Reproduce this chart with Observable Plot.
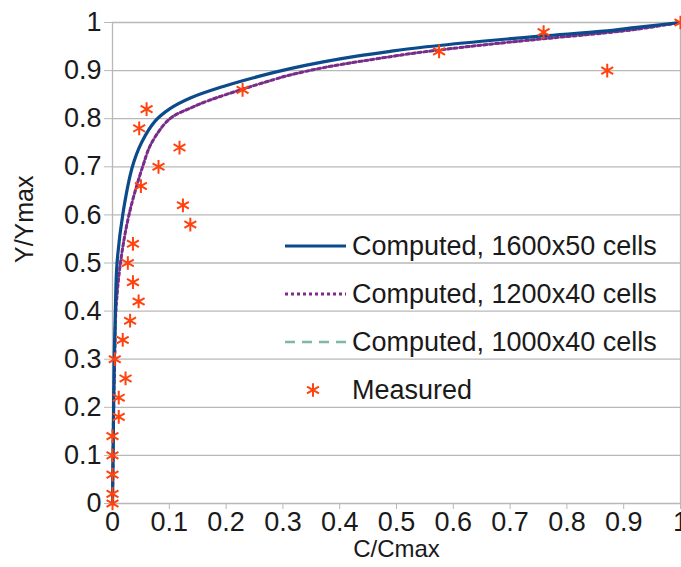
<!DOCTYPE html>
<html><head><meta charset="utf-8">
<script src="https://cdn.jsdelivr.net/npm/d3@7"></script>
<script src="https://cdn.jsdelivr.net/npm/@observablehq/plot@0.6"></script>
<style>
body{margin:0;background:#fff;font-family:"Liberation Sans",Arial,sans-serif;}
#wrap{position:relative;width:681px;height:567px;overflow:hidden;}
#wrap svg.leg{position:absolute;left:0;top:0;pointer-events:none;}
</style></head><body><div id="wrap"></div>
<script>
// ---- data ----
const xTicks = [0,0.1,0.2,0.3,0.4,0.5,0.6,0.7,0.8,0.9,1];
const yTicks = [0,0.1,0.2,0.3,0.4,0.5,0.6,0.7,0.8,0.9,1];
const xLabel = "C/Cmax";
const yLabel = "Y/Ymax";

const c1600X = [0,0.001,0.002,0.003,0.005,0.008,0.018,0.035,0.051,0.075,0.10,0.137,0.195,0.254,0.313,0.371,0.43,0.489,0.542,0.65,0.757,0.864,0.923,1];
const c1600Y = [0,0.1,0.2,0.3,0.4,0.5,0.6,0.7,0.75,0.795,0.82,0.843,0.867,0.887,0.904,0.918,0.930,0.940,0.948,0.961,0.972,0.982,0.990,1];

const c1200X = [0,0.001,0.002,0.004,0.006,0.014,0.029,0.053,0.069,0.101,0.137,0.17,0.228,0.283,0.313,0.371,0.43,0.489,0.542,0.65,0.757,0.864,0.923,1];
const c1200Y = [0,0.1,0.2,0.3,0.4,0.5,0.6,0.7,0.75,0.8,0.822,0.838,0.861,0.881,0.891,0.906,0.918,0.929,0.938,0.953,0.966,0.978,0.986,1];

const c1000X = [0,0.001,0.002,0.004,0.006,0.014,0.029,0.053,0.069,0.101,0.137,0.17,0.228,0.283,0.313,0.371,0.43,0.489,0.542,0.65,0.757,0.864,0.923,1];
const c1000Y = [0,0.1,0.2,0.3,0.4,0.5,0.6,0.7,0.75,0.8,0.822,0.838,0.861,0.881,0.891,0.906,0.918,0.929,0.938,0.953,0.966,0.978,0.986,1];

const measX = [0,0,0,0,0,0.011,0.011,0.023,0.004,0.018,0.031,0.046,0.036,0.027,0.036,0.137,0.124,0.050,0.081,0.118,0.047,0.060,0.229,0.575,0.759,0.871,1.0];
const measY = [0,0.02,0.06,0.10,0.14,0.18,0.22,0.26,0.30,0.34,0.38,0.42,0.46,0.50,0.54,0.58,0.62,0.66,0.70,0.74,0.78,0.82,0.86,0.94,0.98,0.90,1.0];

const seriesNames = ["Computed, 1600x50 cells","Computed, 1200x40 cells","Computed, 1000x40 cells","Measured"];
const seriesColors = ["#0b4a8b","#7d2b8b","#7db8a6","#ff420e"];

// ---- build tables ----
const toRows = (xs, ys) => xs.map((x,i)=>({x, y: ys[i]}));
const s1600 = toRows(c1600X, c1600Y);
const s1200 = toRows(c1200X, c1200Y);
const s1000 = toRows(c1000X, c1000Y);
const meas = toRows(measX, measY);
const fmt = d => String(+d.toFixed(1));

const FONT = "Liberation Sans, Arial, sans-serif";

const chart = Plot.plot({
  width: 681, height: 567,
  marginLeft: 112, marginRight: 1, marginTop: 22, marginBottom: 64,
  style: {fontFamily: FONT, fontSize: "27px", background: "white", color: "#1a1a1a", overflow: "visible"},
  x: {domain: [0,1]},
  y: {domain: [0,1]},
  marks: [
    Plot.gridY(yTicks, {stroke: "#b8b8b8", strokeOpacity: 1, strokeWidth: 1.3}),
    Plot.ruleX([0,1], {stroke: "#b8b8b8", strokeWidth: 1.3}),
    Plot.axisX(xTicks, {tickSize: 6, tickPadding: 2, stroke: "#b8b8b8", fill: "#1a1a1a", fontSize: 27, tickFormat: fmt, label: null}),
    Plot.axisY(yTicks, {tickSize: 8, tickPadding: 3, stroke: "#b8b8b8", fill: "#1a1a1a", fontSize: 27, tickFormat: fmt, label: null}),
    Plot.text([xLabel], {text: d => d, frameAnchor: "bottom", dy: 53, fontSize: 24, fill: "#1a1a1a"}),
    Plot.text([yLabel], {text: d => d, frameAnchor: "left", dx: -88, rotate: -90, fontSize: 25, fill: "#1a1a1a"}),
    Plot.line(s1000, {x: "x", y: "y", stroke: seriesColors[2], strokeWidth: 2.5, strokeDasharray: "10,7", curve: "catmull-rom"}),
    Plot.line(s1200, {x: "x", y: "y", stroke: seriesColors[1], strokeWidth: 3, strokeDasharray: "3,3", curve: "catmull-rom"}),
    Plot.line(s1600, {x: "x", y: "y", stroke: seriesColors[0], strokeWidth: 3.2, curve: "catmull-rom"}),
    Plot.dot(meas, {x: "x", y: "y", symbol: "asterisk", r: 6.5, stroke: seriesColors[3], strokeWidth: 2})
  ]
});
const wrap = document.getElementById("wrap");
wrap.appendChild(chart);

// ---- legend overlay ----
const leg = d3.select(wrap).append("svg").attr("class","leg").attr("width",681).attr("height",567)
  .style("font-family", FONT).style("font-size","27px");
const rowY = [246, 294, 342, 390];
const dashes = [null, "3,3", "10,7", null];
const widths = [3.2, 3, 2.5, 2];
seriesNames.forEach((name, i) => {
  const g = leg.append("g").attr("transform", `translate(0,${rowY[i]})`);
  if (i < 3) {
    g.append("line").attr("x1",285).attr("x2",346).attr("y1",0).attr("y2",0)
      .attr("stroke", seriesColors[i]).attr("stroke-width", widths[i])
      .attr("stroke-dasharray", dashes[i]);
  } else {
    g.append("path").attr("transform","translate(313,0)")
      .attr("d", d3.symbol(d3.symbolAsterisk, Math.PI*6.5*6.5)())
      .attr("stroke", seriesColors[i]).attr("stroke-width", 2).attr("fill","none");
  }
  g.append("text").attr("x", 352).attr("y", 0).attr("dy","0.35em").attr("fill","#1a1a1a").text(name);
});
</script></body></html>
